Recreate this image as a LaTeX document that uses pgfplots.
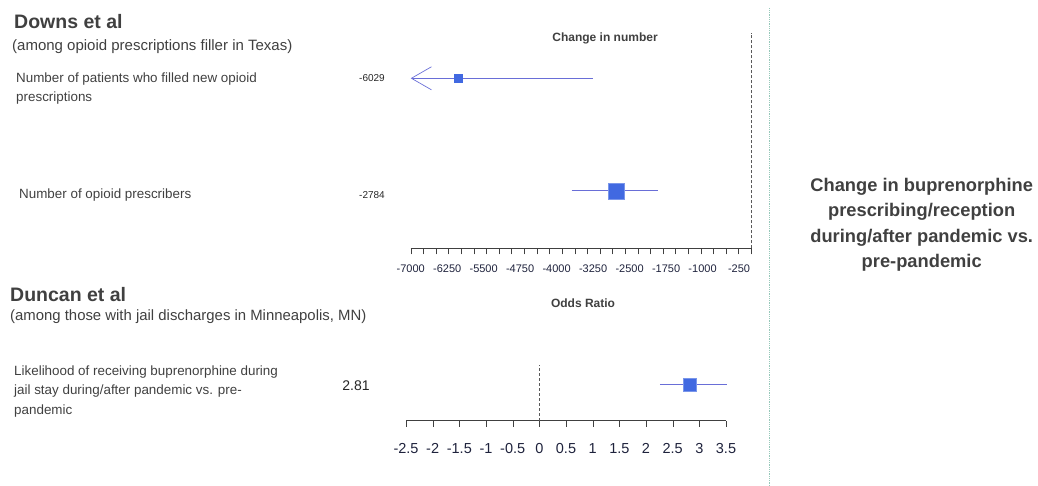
\documentclass[border=0pt]{standalone}
\usepackage{pgfplots}
\pgfplotsset{compat=1.18}
\usepackage{fontspec}
\setmainfont{Liberation Sans}
\usetikzlibrary{arrows.meta}
\definecolor{txt}{RGB}{64,64,64}
\definecolor{ticktxt}{RGB}{30,34,60}
\definecolor{mk}{RGB}{65,105,225}
\definecolor{ci}{RGB}{105,110,215}
\definecolor{sep}{RGB}{150,200,185}
\begin{document}
\begin{tikzpicture}[x=1pt,y=1pt]
\path[use as bounding box] (0,0) rectangle (1038,486);
\coordinate (TopSW) at (410.7,237.7);
\coordinate (BotSW) at (406,65.3);
% ---------- top axis: Downs et al ----------
\begin{axis}[
  at={(TopSW)}, anchor=south west,
  scale only axis, width=340.5pt, height=215.3pt,
  xmin=-7000, xmax=0, ymin=237.7, ymax=453,
  clip=false,
  axis x line=bottom, hide y axis,
  x axis line style={-, black!75},
  xtick={-7000,-6250,-5500,-4750,-4000,-3250,-2500,-1750,-1000,-250},
  xticklabels={-7000,-6250,-5500,-4750,-4000,-3250,-2500,-1750,-1000,-250},
  minor xtick={-7000,-6740.74,-6481.48,-6222.22,-5962.96,-5703.70,-5444.44,-5185.19,-4925.93,-4666.67,-4407.41,-4148.15,-3888.89,-3629.63,-3370.37,-3111.11,-2851.85,-2592.59,-2333.33,-2074.07,-1814.81,-1555.56,-1296.30,-1037.04,-777.78,-518.52,-259.26,0},
  major tick length=0pt, minor tick length=6pt,
  xtick align=outside,
  minor tick style={black!75},
  xticklabel style={font=\fontsize{11}{12}\selectfont, text=ticktxt, yshift=-13pt},
]
\addplot[black!65, densely dashed, thin] coordinates {(0,237.7) (0,453)};
% CI lines
\addplot[ci, line width=1pt, -{Straight Barb[length=20pt,width=23pt,line width=0.7pt]}] coordinates {(-3258,407.7) (-7000,407.7)};
\addplot[ci, line width=1pt] coordinates {(-3690,295) (-1909,295)};
% point estimates
\addplot[only marks, mark=square*, mark size=3.85pt, mk, mark options={fill=mk, draw=mk}] coordinates {(-6029,407.7)};
\addplot[only marks, mark=square*, mark size=8pt, mk, mark options={fill=mk, draw=mk!70!white}] coordinates {(-2784,295)};
\end{axis}
% ---------- bottom axis: Duncan et al ----------
\begin{axis}[
  at={(BotSW)}, anchor=south west,
  scale only axis, width=320pt, height=55.7pt,
  xmin=-2.5, xmax=3.5, ymin=65.3, ymax=121,
  clip=false,
  axis x line=bottom, hide y axis,
  x axis line style={-, black!75},
  xtick={-2.5,-2,-1.5,-1,-0.5,0,0.5,1,1.5,2,2.5,3,3.5},
  xticklabels={-2.5,-2,-1.5,-1,-0.5,0,0.5,1,1.5,2,2.5,3,3.5},
  major tick length=6pt, xtick align=outside,
  major tick style={black!75},
  xticklabel style={font=\fontsize{14.5}{15}\selectfont, text=ticktxt, yshift=-13pt},
]
\addplot[black!65, densely dashed, thin] coordinates {(0,65.3) (0,121)};
\addplot[ci, line width=1pt] coordinates {(2.26,101) (3.51,101)};
\addplot[only marks, mark=square*, mark size=6.5pt, mk, mark options={fill=mk, draw=mk!70!white}] coordinates {(2.81,101)};
\end{axis}
% ---------- titles and text ----------
\node[anchor=center, font=\fontsize{12}{14}\selectfont\bfseries, text=txt] at (605,448) {Change in number};
\node[anchor=center, font=\fontsize{12}{14}\selectfont\bfseries, text=txt] at (583,183) {Odds Ratio};
\node[anchor=west, inner sep=0pt, font=\fontsize{19.5}{22}\selectfont\bfseries, text=txt] at (14,464) {Downs et al};
\node[anchor=west, inner sep=0pt, font=\fontsize{15}{17}\selectfont, text=txt] at (12,439) {(among opioid prescriptions filler in Texas)};
\node[anchor=west, inner sep=0pt, font=\fontsize{13.4}{19.5}\selectfont, text=txt, align=left] at (16,397.5) {Number of patients who filled new opioid\\prescriptions};
\node[anchor=west, inner sep=0pt, font=\fontsize{13.4}{19.5}\selectfont, text=txt] at (19,291) {Number of opioid prescribers};
\node[anchor=center, inner sep=0pt, font=\fontsize{10}{12}\selectfont, text=black!85] at (372,407.7) {-6029};
\node[anchor=center, inner sep=0pt, font=\fontsize{10}{12}\selectfont, text=black!85] at (372,291) {-2784};
\node[anchor=west, inner sep=0pt, font=\fontsize{19.5}{22}\selectfont\bfseries, text=txt] at (10,191) {Duncan et al};
\node[anchor=west, inner sep=0pt, font=\fontsize{14.9}{17}\selectfont, text=txt] at (10,169) {(among those with jail discharges in Minneapolis, MN)};
\node[anchor=west, inner sep=0pt, font=\fontsize{13.4}{19.5}\selectfont, text=txt, align=left] at (14,94.5) {Likelihood of receiving buprenorphine during\\jail stay during/after pandemic vs. pre-\\pandemic};
\node[anchor=center, inner sep=0pt, font=\fontsize{14}{16}\selectfont, text=black!85] at (356,100) {2.81};
% separator
\draw[sep, densely dotted, line width=0.8pt] (769.3,0) -- (769.3,478);
% right text
\node[anchor=center, align=center, font=\fontsize{18.3}{25.5}\selectfont\bfseries, text=txt] at (921.7,261) {Change in buprenorphine\\prescribing/reception\\during/after pandemic vs.\\pre-pandemic};
\end{tikzpicture}
\end{document}
